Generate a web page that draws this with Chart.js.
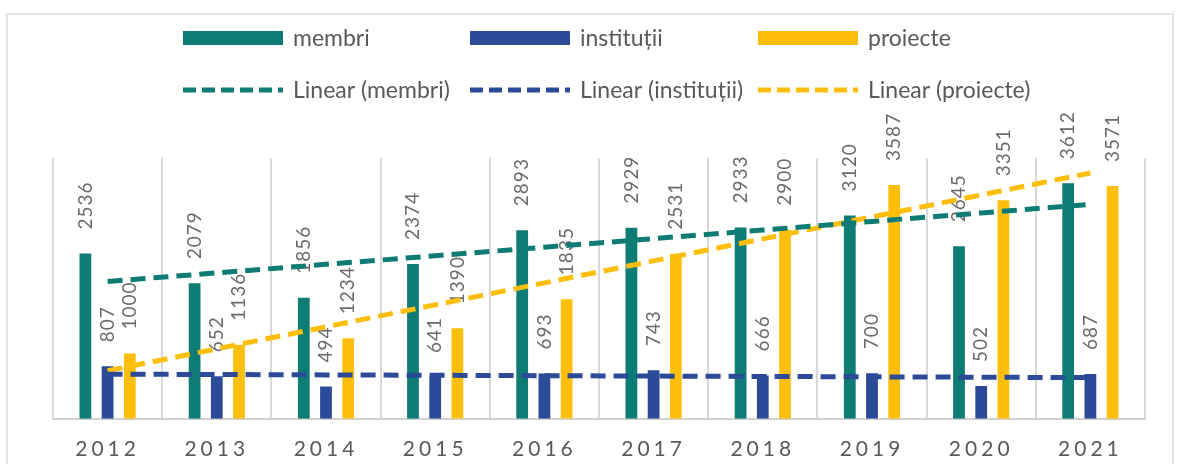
<!DOCTYPE html>
<html>
<head>
<meta charset="utf-8">
<script src="https://cdn.jsdelivr.net/npm/chart.js@4"></script>
<style>
  html, body { margin: 0; padding: 0; background: #fff; }
  body { width: 1179px; height: 464px; position: relative; overflow: hidden; }
  #frame { position: absolute; left: 6px; top: 13px; width: 1164px; height: 480px; border: 2px solid #e4e4e4; }
  #wrap { position: absolute; left: 0; top: 0; width: 1179px; height: 464px; }
</style>
</head>
<body>
<div id="frame"></div>
<div id="wrap"><canvas id="chart"></canvas></div>
<script>
const years = ['2012', '2013', '2014', '2015', '2016', '2017', '2018', '2019', '2020', '2021'];
const membri = [2536, 2079, 1856, 2374, 2893, 2929, 2933, 3120, 2645, 3612];
const institutii = [807, 652, 494, 641, 693, 743, 666, 700, 502, 687];
const proiecte = [1000, 1136, 1234, 1390, 1835, 2531, 2900, 3587, 3351, 3571];

const TEAL = '#0e7c74';
const BLUE = '#2b4a98';
const GOLD = '#fdbf0c';
const FONT = 'Lato, "Noto Sans", sans-serif';

// least squares trendline, like Excel's "Linear" trendline
function linear(ys) {
  const n = ys.length;
  const mx = (n - 1) / 2;
  const my = ys.reduce((a, b) => a + b, 0) / n;
  let sxy = 0, sxx = 0;
  ys.forEach((y, i) => { sxy += (i - mx) * (y - my); sxx += (i - mx) * (i - mx); });
  const k = sxy / sxx;
  return ys.map((_, i) => my + k * (i - mx));
}

function trend(label, src, color) {
  return {
    type: 'line', label: label, data: linear(src), borderColor: color,
    borderWidth: 5, borderDash: [15, 8], pointRadius: 0, fill: false, order: 0, isTrend: true
  };
}

function bars(label, src, color) {
  return { type: 'bar', label: label, data: src, backgroundColor: color, order: 1 };
}

const spacing = {
  id: 'spacing',
  beforeDraw(chart) { chart.ctx.letterSpacing = '4px'; },
  beforeDatasetsDraw(chart) { chart.ctx.letterSpacing = '0px'; }
};

const barLabels = {
  id: 'barLabels',
  afterDatasetDraw(chart, args) {
    const meta = args.meta;
    if (meta.type !== 'bar') return;
    const ctx = chart.ctx;
    const ds = chart.data.datasets[args.index];
    ctx.save();
    ctx.font = '19px ' + FONT;
    ctx.letterSpacing = '1px';
    ctx.fillStyle = '#6b6b6b';
    ctx.textAlign = 'left';
    ctx.textBaseline = 'middle';
    meta.data.forEach((el, i) => {
      ctx.save();
      ctx.translate(el.x, el.y - 24);
      ctx.rotate(-Math.PI / 2);
      ctx.fillText(String(ds.data[i]), 0, 0);
      ctx.restore();
    });
    ctx.restore();
  }
};

const gridLegend = {
  id: 'gridLegend',
  afterDraw(chart) {
    const ctx = chart.ctx;
    const cols = [183, 470, 758];
    const rows = [38, 90];
    ctx.save();
    ctx.letterSpacing = '0px';
    ctx.font = '23px ' + FONT;
    ctx.textBaseline = 'middle';
    ctx.textAlign = 'left';
    let bi = 0, li = 0;
    chart.data.datasets.forEach(ds => {
      const trendRow = ds.isTrend ? 1 : 0;
      const c = trendRow ? li++ : bi++;
      const x = cols[c], y = rows[trendRow];
      if (trendRow) {
        ctx.strokeStyle = ds.borderColor;
        ctx.lineWidth = 5;
        ctx.setLineDash([13, 6]);
        ctx.beginPath();
        ctx.moveTo(x, y);
        ctx.lineTo(x + 100, y);
        ctx.stroke();
        ctx.setLineDash([]);
      } else {
        ctx.fillStyle = ds.backgroundColor;
        ctx.fillRect(x, y - 7, 100, 14);
      }
      ctx.fillStyle = '#595959';
      ctx.fillText(ds.label, x + 110, y + 1);
    });
    ctx.restore();
  }
};

new Chart(document.getElementById('chart'), {
  data: {
    labels: years,
    datasets: [
      bars('membri', membri, TEAL),
      bars('instituții', institutii, BLUE),
      bars('proiecte', proiecte, GOLD),
      trend('Linear (membri)', membri, TEAL),
      trend('Linear (instituții)', institutii, BLUE),
      trend('Linear (proiecte)', proiecte, GOLD)
    ]
  },
  options: {
    responsive: true,
    maintainAspectRatio: false,
    animation: false,
    datasets: { bar: { categoryPercentage: 0.61, barPercentage: 0.53 } },
    layout: { padding: { left: 53, right: 34, top: 158, bottom: -16 } },
    scales: {
      x: {
        offset: true,
        grid: { offset: true, color: '#d9d9d9', lineWidth: 2, drawTicks: false },
        border: { color: '#d0d0d0', width: 2 },
        ticks: { color: '#595959', font: { family: FONT, size: 21 }, padding: 18 }
      },
      y: { display: false, min: 0, max: 4000 }
    },
    plugins: { legend: { display: false }, tooltip: { enabled: false } }
  },
  plugins: [spacing, barLabels, gridLegend]
});
</script>
</body>
</html>
